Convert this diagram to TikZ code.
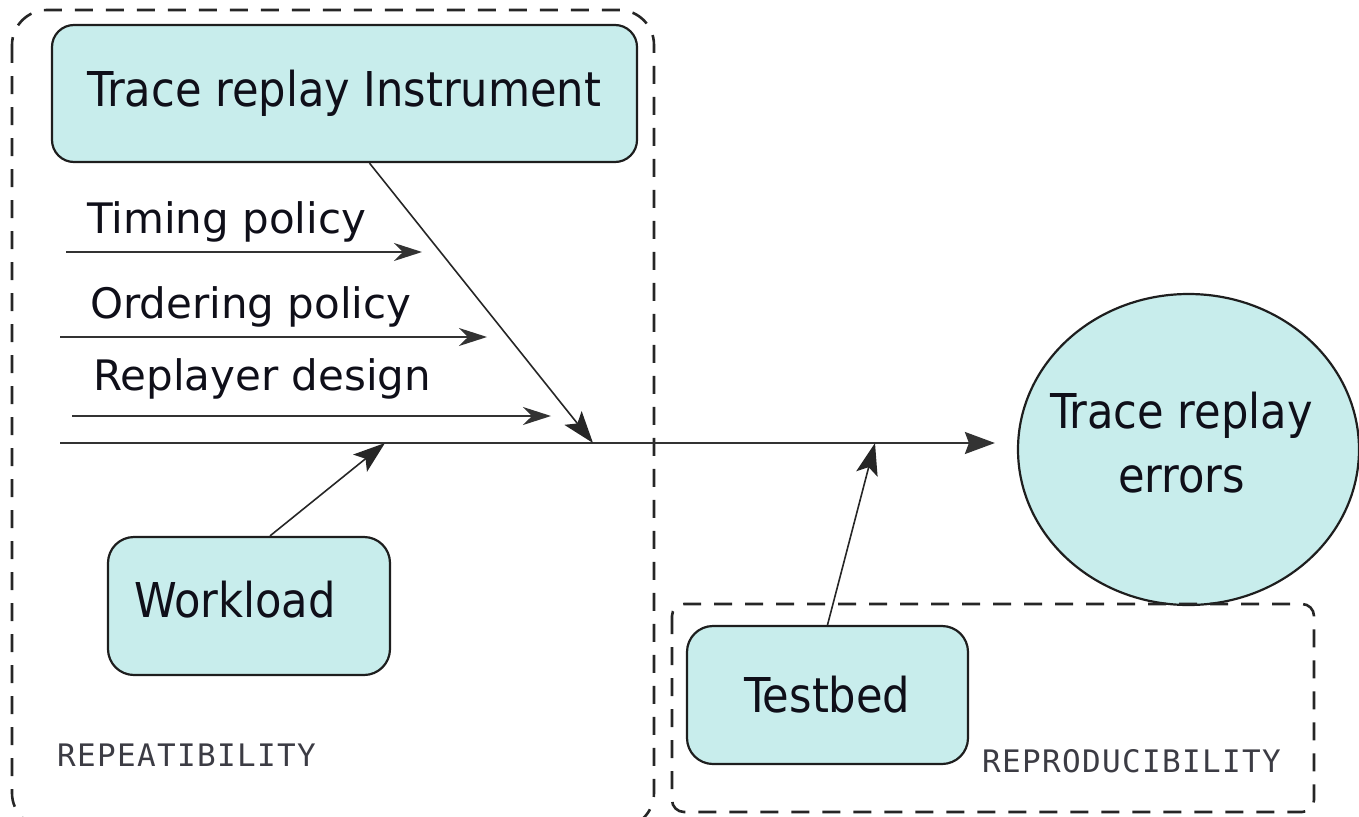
\documentclass[tikz,border=0pt]{standalone}
\usepackage{fontspec}
\setmainfont{DejaVu Sans}
\newfontfamily\condfont{DejaVu Sans Condensed}
\newfontfamily\codefont{DejaVu Sans Mono}[LetterSpace=4.3]
\usetikzlibrary{arrows.meta,shapes.geometric}
\definecolor{boxfill}{RGB}{200,237,236}
\definecolor{edge}{RGB}{30,30,30}
\definecolor{ink}{RGB}{15,15,25}
\definecolor{codeink}{RGB}{60,60,68}

\begin{document}
\begin{tikzpicture}[x=1pt,y=-1pt,
  block/.style={draw=edge, line width=2.2pt, fill=boxfill, inner sep=0pt,
    text=ink, font=\condfont\fontsize{48}{64}\selectfont},
  blocktext/.style={inner sep=0pt, text=ink, align=center,
    font=\condfont\fontsize{48}{64}\selectfont},
  region/.style={draw=black!85, line width=2.6pt, dash pattern=on 18pt off 13pt},
  factor/.style={anchor=base west, inner sep=0pt, text=ink,
    font=\fontsize{42}{50}\selectfont},
  tag/.style={anchor=base west, inner sep=0pt, text=codeink,
    font=\codefont\fontsize{31}{36}\selectfont},
  cause/.style={draw=black!80, line width=1.5pt,
    -{Stealth[length=28pt,width=18pt,inset=9pt]}},
  feed/.style={draw=black!85, line width=1.6pt,
    -{Stealth[length=32pt,width=22pt,inset=7pt]}},
  spine/.style={draw=black!80, line width=2pt,
    -{Stealth[length=30pt,width=22pt,inset=4pt]}}
]
\useasboundingbox (0,0) rectangle (1359,816);

% repeatability region
\draw[region, rounded corners=35pt] (12,10) rectangle (654,828);

% boxes of the causes
\node[block, rounded corners=22pt, minimum width=585pt, minimum height=137pt]
  (instr) at (344.5,93.5) {Trace replay Instrument};
\node[block, rounded corners=26pt, minimum width=282pt, minimum height=138pt]
  (wl) at (249,606) {};
\node[blocktext] (wlt) at ([xshift=-14pt,yshift=6pt]wl.center) {Workload};
\node[block, rounded corners=26pt, minimum width=281pt, minimum height=138pt]
  (tb) at (827.5,695) {Testbed};

% effect
\node[ellipse, draw=edge, line width=2.2pt, fill=boxfill, inner sep=0pt,
  minimum width=341pt, minimum height=311pt] (err) at (1188.5,449.5) {};
\node[blocktext] (errt) at ([xshift=-7pt,yshift=7pt]err.center)
  {Trace replay\\errors};

% reproducibility region
\draw[region, rounded corners=12pt] (672,604) rectangle (1314,812);

% factor labels
\node[factor] (tp) at (87,233) {Timing policy};
\node[factor] (op) at (90,318) {Ordering policy};
\node[factor] (rd) at (93,390) {Replayer design};

\node[tag] (rep) at (57,766) {REPEATIBILITY};
\node[tag] (repr) at (982,772) {REPRODUCIBILITY};

% factor arrows
\coordinate (tpA) at (66,252);  \coordinate (tpB) at (422,252);
\coordinate (opA) at (60,337);  \coordinate (opB) at (487,337);
\coordinate (rdA) at (72,416);  \coordinate (rdB) at (551,416);
\draw[cause] (tpA) -- (tpB);
\draw[cause] (opA) -- (opB);
\draw[cause] (rdA) -- (rdB);

% spine and the branches joining it
\coordinate (sL) at (60,443);
\coordinate (jI) at (593,443);
\coordinate (jW) at (385,443);
\coordinate (jT) at (875,443);
\draw[spine, shorten >=22pt] (sL) -- (sL -| err.west);
\draw[feed] ([xshift=25pt]instr.south) -- (jI);
\draw[feed] ([xshift=21pt]wl.north) -- (jW);
\draw[feed] (tb.north) -- (jT);
\end{tikzpicture}
\end{document}
